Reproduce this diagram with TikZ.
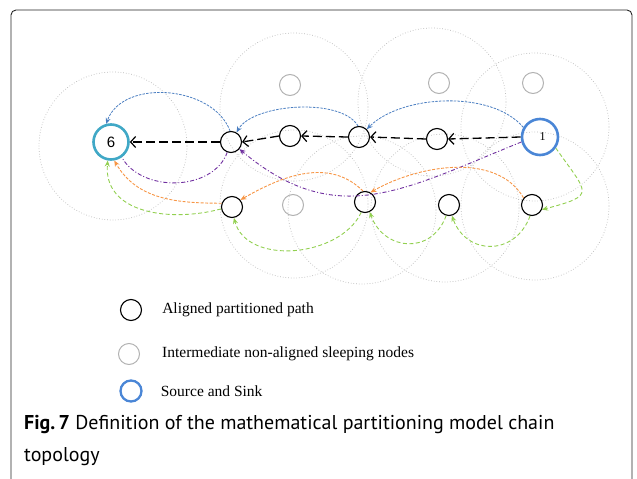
\documentclass[tikz,border=0pt]{standalone}
\usepackage{fontspec}
\setmainfont{Liberation Serif}
\setsansfont{Liberation Sans}
\newfontfamily\figcapfont{PT Sans}
\usetikzlibrary{arrows.meta, positioning}

\definecolor{linkblue}{RGB}{74,126,193}
\definecolor{linkpurple}{RGB}{112,48,160}
\definecolor{linkorange}{RGB}{247,150,70}
\definecolor{linkgreen}{RGB}{146,208,80}
\definecolor{sinkteal}{RGB}{64,168,198}
\definecolor{sourceblue}{RGB}{74,134,214}

\begin{document}
\begin{tikzpicture}[
            x=1pt,
            y=1pt,
            node distance=20pt,
            >={Stealth[length=6pt, width=5pt]},
            aligned/.style={
				circle,
				minimum size=21pt,
				inner sep=0pt,
				draw=black,
				line width=1.1pt
			},
            sleeping/.style={
				circle,
				minimum size=21pt,
				inner sep=0pt,
				draw=gray!60,
				line width=1pt
			},
            sinknode/.style={
				circle,
				minimum size=35pt,
				inner sep=0pt,
				draw=sinkteal,
				line width=2.6pt,
				font=\sffamily\fontsize{15}{15}\selectfont
			},
            sourcenode/.style={
				circle,
				minimum size=36pt,
				inner sep=0pt,
				draw=sourceblue,
				line width=2.6pt,
				font=\fontsize{12}{12}\selectfont
			},
            legendtext/.style={
				inner sep=0pt,
				anchor=west,
				font=\fontsize{15.5}{18}\selectfont
			},
            captiontext/.style={
				inner sep=0pt,
				anchor=north west,
				align=left,
				font=\figcapfont\fontsize{20}{32}\selectfont
			},
            panel/.style={
				draw=black!85,
				line width=0.9pt,
				rounded corners=5pt
			},
            reach/.style={
				draw=gray!55,
				dotted,
				line width=0.7pt
			},
            hop/.style={
				draw=black,
				line width=1.3pt,
				dash pattern=on 9pt off 4pt,
				-{Straight Barb[length=5pt, width=11pt, line width=1.2pt]}
			},
            bluelink/.style={
				draw=linkblue,
				line width=0.8pt,
				dash pattern=on 2.5pt off 1.2pt,
				->
			},
            purplelink/.style={
				draw=linkpurple,
				line width=0.9pt,
				dash pattern=on 4pt off 2pt on 1pt off 2pt
			},
            orangelink/.style={
				draw=linkorange,
				line width=0.9pt,
				dash pattern=on 3pt off 1.5pt,
				->
			},
            greenlink/.style={
				draw=linkgreen,
				line width=0.9pt,
				dash pattern=on 4pt off 2.5pt,
				->
			}
        ]

        \useasboundingbox (0,0) rectangle (637,-479);

        \draw [panel] (11,-479) -- (11,-10) -- (632,-10) -- (632,-479);

        % radio ranges
        \draw [reach] (113,-146) circle (74);
        \draw [reach] (294,-107) circle (74);
        \draw [reach] (432,-102) circle (74);
        \draw [reach] (535,-127) circle (74);
        \draw [reach] (294,-204) circle (74);
        \draw [reach] (362,-210) circle (74);
        \draw [reach] (445,-208) circle (74);
        \draw [reach] (535,-206) circle (74);

        \node (sink) [sinknode] at (111,-142) {6};
        \node (src) [sourcenode] at (540,-137) {\hspace{5pt}1};

        \node (a1) [aligned] at (231,-142) {};
        \node (a2) [aligned] at (290,-136) {};
        \node (a3) [aligned] at (359,-137) {};
        \node (a4) [aligned] at (437,-139) {};
        \node (l1) [aligned] at (232,-207) {};
        \node (l2) [aligned] at (365,-202) {};
        \node (l3) [aligned] at (449,-205) {};
        \node (l4) [aligned] at (532,-205) {};

        \node (s1) [sleeping] at (290,-85) {};
        \node (s2) [sleeping] at (439,-83) {};
        \node (s3) [sleeping] at (533,-83) {};
        \node (s4) [sleeping] at (293,-205) {};

        \draw [hop] (src.west) -- (a4.east);
        \draw [hop] (a4.west) -- (a3.east);
        \draw [hop] (a3.west) -- (a2.east);
        \draw [hop] (a2.west) -- (a1.east);
        \draw [hop] (a1.west) -- (sink.east);

        \draw [bluelink] (src.150) to[out=130, in=45, looseness=0.8] (a3.45);
        \draw [bluelink] (a3.95) to[out=120, in=60, looseness=0.7] (a1.60);
        \draw [bluelink] (a1.95) to[out=110, in=70] (sink.105);

        \draw [purplelink, ->] (src.195) to[out=202, in=-40, looseness=1.15] (a1.-40);
        \draw [purplelink] (a1.250) to[out=250, in=-60] (sink.-55);

        \draw [orangelink] (l4.140) to[out=120, in=30, looseness=0.9] (l2.60);
        \draw [orangelink] (l2.100) to[out=135, in=30] (l1.40);
        \draw [orangelink] (l1.160) to[out=180, in=-60] (sink.-80);

        \draw [greenlink] (src.-35) to[out=-55, in=15, looseness=2.3] (l4.-25);
        \draw [greenlink] (l4.-100) to[out=-110, in=-70, looseness=1.4] (l3.-75);
        \draw [greenlink] (l3.-105) to[out=-110, in=-70, looseness=1.4] (l2.-65);
        \draw [greenlink] (l2.-110) to[out=-115, in=-75] (l1.-80);
        \draw [greenlink] (l1.190) to[out=195, in=-95, looseness=1.1] (sink.-100);

        % legend
        \node (legAligned) [aligned] at (131,-310) {};
        \node (legSleeping) [sleeping] at (129,-354) {};
        \node (legEnds) [sourcenode, minimum size=21pt, line width=2.3pt] at (131,-391) {};
        \node (legAlignedText) [legendtext, right=of legAligned] {Aligned partitioned path};
        \node (legSleepingText) [legendtext, right=22pt of legSleeping] {Intermediate non-aligned sleeping nodes};
        \node (legEndsText) [legendtext, right=18pt of legEnds] {Source and Sink};

        \node (caption) [captiontext] at (24,-415) {\textbf{Fig.\,7} Definition of the mathematical partitioning model chain\\topology};

\end{tikzpicture}
\end{document}
